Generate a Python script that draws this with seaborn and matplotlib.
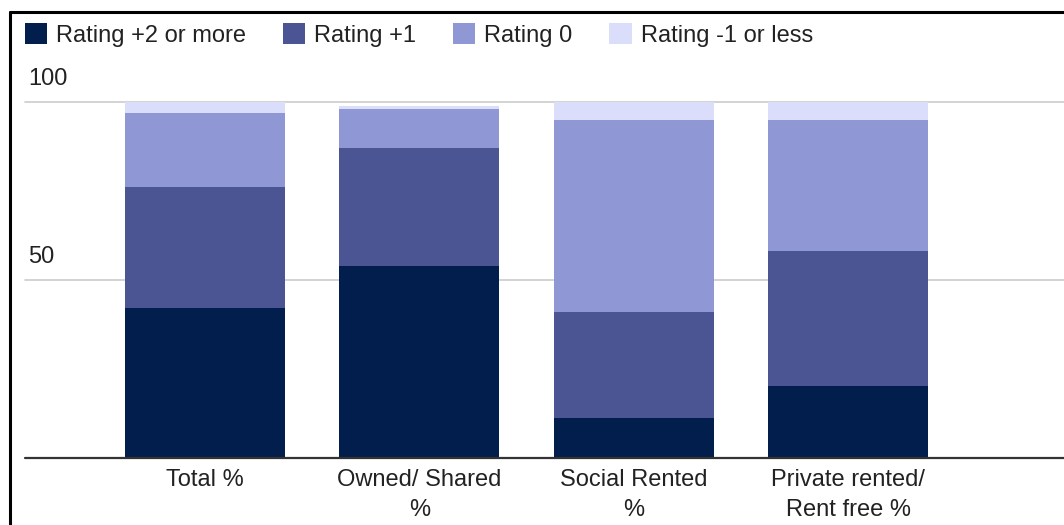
import pandas as pd
import numpy as np
import matplotlib.pyplot as plt
import seaborn as sns
from matplotlib.patches import Patch
from matplotlib.lines import Line2D

sns.set_style("white")
plt.rcParams['font.family'] = ['Liberation Sans', 'DejaVu Sans']

categories = ['Total %', 'Owned/ Shared\n%', 'Social Rented\n%', 'Private rented/\nRent free %']
series_names = ['Rating +2 or more', 'Rating +1', 'Rating 0', 'Rating -1 or less']
rating_plus2 = [42, 54, 11, 20]
rating_plus1 = [34, 33, 30, 38]
rating_zero = [21, 11, 54, 37]
rating_minus1 = [3, 1, 5, 5]
colors = ['#011e4d', '#4b5593', '#8f97d5', '#dadefa']

df = pd.DataFrame({
    'category': categories,
    series_names[0]: rating_plus2,
    series_names[1]: rating_plus1,
    series_names[2]: rating_zero,
    series_names[3]: rating_minus1,
})
# cumulative tops for stacking
cum = df[series_names].cumsum(axis=1)
cum['category'] = df['category']

W, H = 1064, 525
fig = plt.figure(figsize=(W / 100, H / 100), dpi=100)
ax = fig.add_axes([25 / W, (H - 457.5) / H, 1 - 25 / W, (457.5 - 102) / H])

# draw from tallest cumulative layer down so each visible band is the right height
for name, color in reversed(list(zip(series_names, colors))):
    sns.barplot(data=cum, x='category', y=name, color=color, saturation=1,
                width=0.746, ax=ax, zorder=3, linewidth=0, edgecolor='none')

ax.set_ylim(0, 100)
ax.set_xlim(-0.839, 4.005)
for s in ax.spines.values():
    s.set_visible(False)
ax.set_yticks([])
ax.set_ylabel('')
ax.set_xlabel('')

for v in [50, 100]:
    ax.axhline(v, color='#cccccc', lw=1.2, zorder=1, clip_on=False)
    ax.annotate(str(v), xy=(0.003, v), xycoords=ax.get_yaxis_transform(),
                xytext=(0, 16.5), textcoords='offset points', va='center', ha='left',
                fontsize=17, color='#222222')
ax.axhline(0, color='#333333', lw=1.6, zorder=4, clip_on=False)

ax.set_xticks(range(len(categories)))
ax.set_xticklabels(categories, fontsize=17, color='#222222', linespacing=1.5)
ax.tick_params(axis='x', length=0, pad=8)

handles = [Patch(facecolor=c, edgecolor='none') for c in colors]
fig.legend(handles, series_names, loc='center left', ncol=4, frameon=False,
           bbox_to_anchor=(25 / W, 1 - 35 / H), borderpad=0, borderaxespad=0,
           fontsize=17, handlelength=0.95, handleheight=0.95,
           handletextpad=0.38, columnspacing=1.55, labelcolor='#222222')

# outer frame (top and left visible)
fig.add_artist(Line2D([10 / W, 10 / W], [0, 1 - 12 / H], color='black', lw=2.2))
fig.add_artist(Line2D([10 / W, 1], [1 - 12 / H, 1 - 12 / H], color='black', lw=2.2))

fig.savefig('out.png', dpi=100)
